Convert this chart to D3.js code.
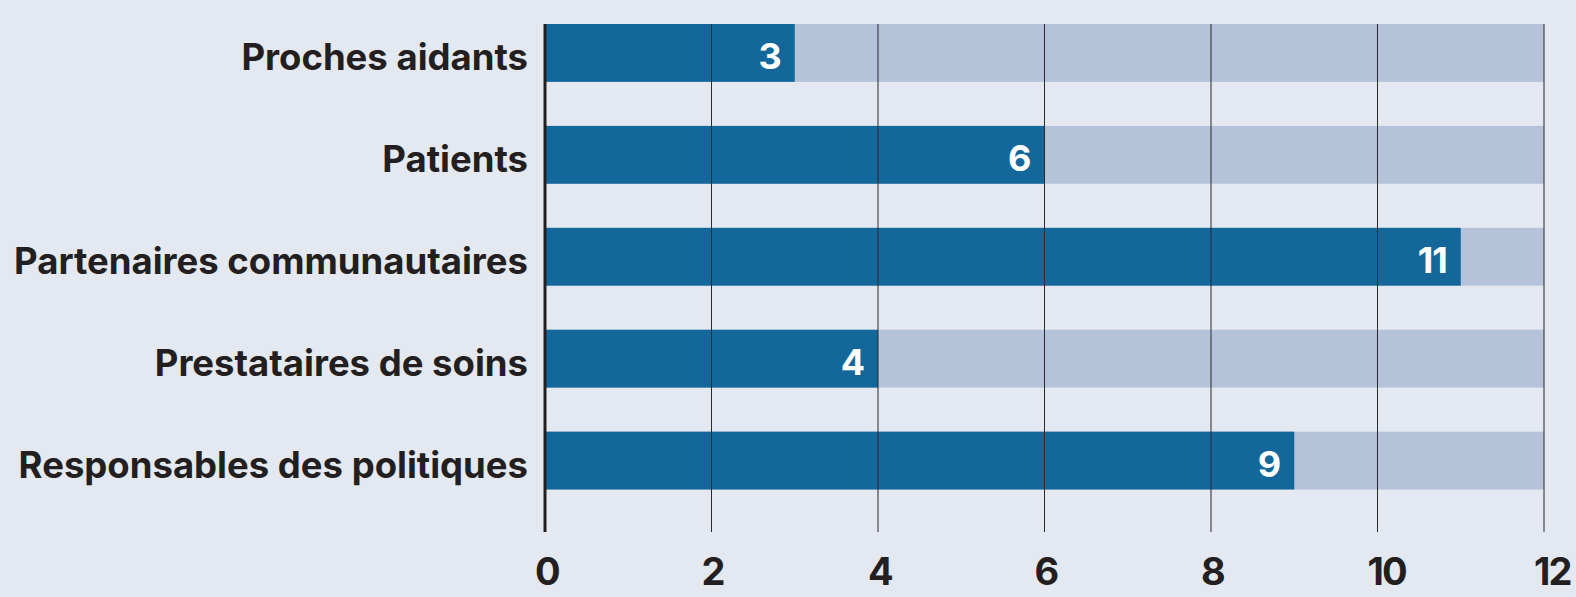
<!DOCTYPE html>
<html>
<head>
<meta charset="utf-8">
<script src="https://cdn.jsdelivr.net/npm/d3@7"></script>
<style>
  html, body { margin: 0; padding: 0; background: #e4e8f1; }
  svg text { font-family: Inter, "Open Sans", sans-serif; font-weight: 700; }
</style>
</head>
<body>
<div id="chart"></div>
<script>
// data
var categories = ["Proches aidants", "Patients", "Partenaires communautaires", "Prestataires de soins", "Responsables des politiques"];
var values = [3, 6, 11, 4, 9];
var maxValue = 12;
var tickValues = [0, 2, 4, 6, 8, 10, 12];

var width = 1576, height = 597;
var margin = {top: 24, right: 32, bottom: 65, left: 545};

var svg = d3.select("#chart").append("svg")
    .attr("width", width)
    .attr("height", height);

var x = d3.scaleLinear().domain([0, maxValue]).range([margin.left, width - margin.right]);
var y = d3.scaleBand().domain(categories)
    .range([margin.top, 489.5])
    .paddingInner(0.4325).paddingOuter(0);

var rows = categories.map(function(c, i) { return {cat: c, val: values[i]}; });

// background track
svg.selectAll(".track").data(rows).enter().append("rect")
    .attr("x", x(0)).attr("y", function(d) { return y(d.cat); })
    .attr("width", x(maxValue) - x(0)).attr("height", y.bandwidth())
    .attr("fill", "#b4c2da");

// value bars
svg.selectAll(".bar").data(rows).enter().append("rect")
    .attr("x", x(0)).attr("y", function(d) { return y(d.cat); })
    .attr("width", function(d) { return x(d.val) - x(0); }).attr("height", y.bandwidth())
    .attr("fill", "#13679b");

// grid lines over the bars
var gridBottom = 532;
svg.selectAll(".grid").data(tickValues.slice(1)).enter().append("line")
    .attr("x1", function(d) { return x(d); }).attr("x2", function(d) { return x(d); })
    .attr("y1", margin.top).attr("y2", gridBottom)
    .attr("stroke", "#2b2b2b").attr("stroke-width", 1);

// y axis line
svg.append("line")
    .attr("x1", x(0)).attr("x2", x(0))
    .attr("y1", margin.top).attr("y2", gridBottom)
    .attr("stroke", "#231f20").attr("stroke-width", 3);

// x tick labels
svg.selectAll(".tick").data(tickValues).enter().append("text")
    .attr("x", function(d) { return x(d) - 10; }).attr("y", 585)
    .attr("text-anchor", "start")
    .attr("fill", "#231f20").style("font-size", "38px").style("letter-spacing", "-2px")
    .text(function(d) { return d; });

// category labels
svg.selectAll(".cat").data(rows).enter().append("text")
    .attr("x", 528).attr("y", function(d) { return y(d.cat) + y.bandwidth() / 2 + 17; })
    .attr("text-anchor", "end")
    .attr("fill", "#231f20").style("font-size", "36.5px")
    .text(function(d) { return d.cat; });

// value labels
svg.selectAll(".val").data(rows).enter().append("text")
    .attr("x", function(d) { return x(d.val) - 14; })
    .attr("y", function(d) { return y(d.cat) + y.bandwidth() / 2 + 16.5; })
    .attr("text-anchor", "end")
    .attr("fill", "#ffffff").style("font-size", "36px").style("letter-spacing", "-1px")
    .text(function(d) { return d.val; });
</script>
</body>
</html>
